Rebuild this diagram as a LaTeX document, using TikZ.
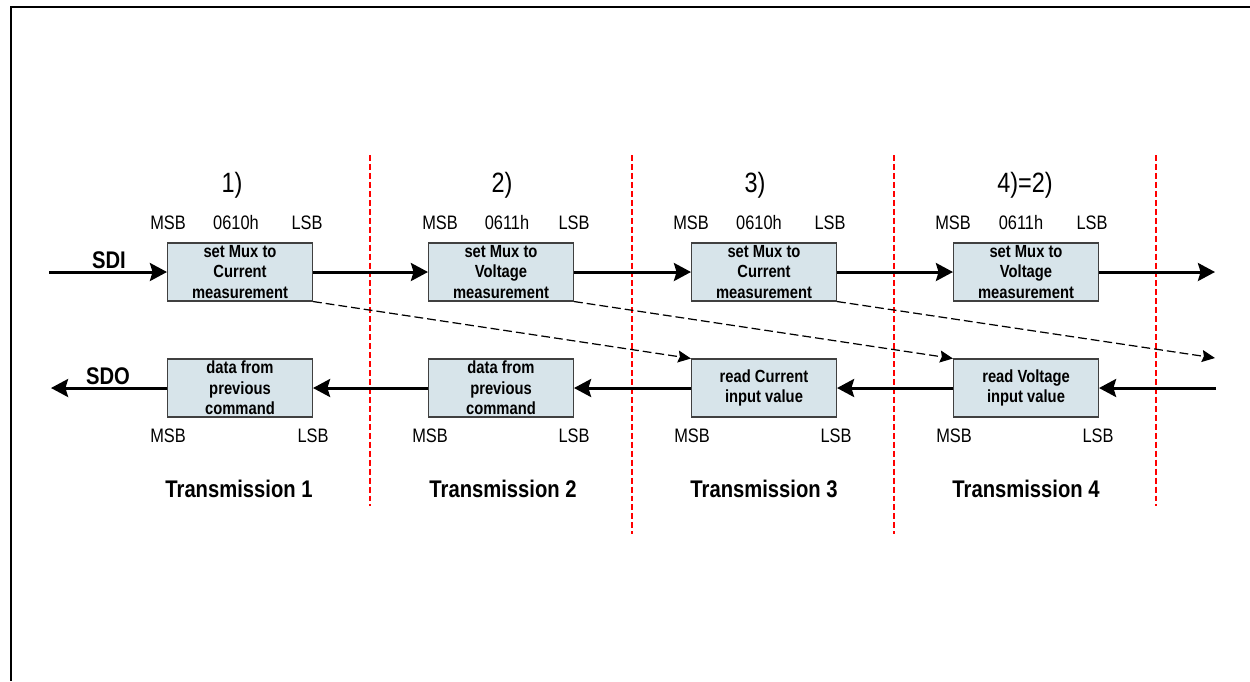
\documentclass[tikz,border=0pt]{standalone}
\usepackage{fontspec}
\setmainfont{Liberation Sans}[FakeStretch=0.84]
\usepackage{xcolor}
\usetikzlibrary{
    arrows.meta,
    positioning
}
\definecolor{boxfill}{HTML}{D7E4EA}
\tikzset{
    reg/.style={draw=black!75, line width=0.6pt, fill=boxfill, minimum width=2.9cm,
        minimum height=1.16cm, inner sep=0pt, align=center,
        font=\fontsize{10pt}{11.7pt}\selectfont\bfseries},
    bit/.style={font=\fontsize{11.1pt}{13pt}\selectfont, inner sep=0pt},
    num/.style={font=\fontsize{15.9pt}{18pt}\selectfont, inner sep=0pt},
    sig/.style={font=\fontsize{13.7pt}{16pt}\selectfont\bfseries, inner sep=0pt},
    flow/.style={line width=1.7pt, -{Stealth[length=9.7pt, width=10.2pt, inset=1.5pt]}},
    delay/.style={line width=0.7pt, dash pattern=on 5pt off 2.3pt,
        -{Stealth[length=7.4pt, width=6.8pt, inset=1pt]}},
    split/.style={red, line width=0.7pt, dash pattern=on 3.4pt off 1.7pt}
}

\begin{document}
\begin{tikzpicture}[x=0.02cm, y=-0.02cm]
    \useasboundingbox (0, 0) rectangle (1250, 681);
    \draw[line width=1.2pt] (1250, 7) -- (11, 7) -- (11, 681);

    % time slots
    \draw[split] (370, 155) -- (370, 506);
    \draw[split] (632, 155) -- (632, 534);
    \draw[split] (894, 155) -- (894, 534);
    \draw[split] (1156, 155) -- (1156, 506);

    % SDI row
    \node[reg] (i1) at (240, 272) {set Mux to\\Current\\measurement};
    \node[reg] (i2) at (501, 272) {set Mux to\\Voltage\\measurement};
    \node[reg] (i3) at (764, 272) {set Mux to\\Current\\measurement};
    \node[reg] (i4) at (1026, 272) {set Mux to\\Voltage\\measurement};

    % SDO row
    \node[reg] (o1) at (240, 388) {data from\\previous\\command};
    \node[reg] (o2) at (501, 388) {data from\\previous\\command};
    \node[reg] (o3) at (764, 388) {read Current\\input value};
    \node[reg] (o4) at (1026, 388) {read Voltage\\input value};

    \node[num] (n1) at (232, 185) {1)};
    \node[num] (n2) at (502, 185) {2)};
    \node[num] (n3) at (755, 185) {3)};
    \node[num] (n4) at (1025, 185) {4)=2)};

    \node[bit] (i1m) at (168, 223) {MSB};
    \node[bit] (i1h) at (236, 223) {0610h};
    \node[bit] (i1l) at (307, 223) {LSB};
    \node[bit] (i2m) at (440, 223) {MSB};
    \node[bit] (i2h) at (507, 223) {0611h};
    \node[bit] (i2l) at (574, 223) {LSB};
    \node[bit] (i3m) at (691, 223) {MSB};
    \node[bit] (i3h) at (759, 223) {0610h};
    \node[bit] (i3l) at (830, 223) {LSB};
    \node[bit] (i4m) at (953, 223) {MSB};
    \node[bit] (i4h) at (1021, 223) {0611h};
    \node[bit] (i4l) at (1092, 223) {LSB};

    \node[bit] (o1m) at (168, 436) {MSB};
    \node[bit] (o1l) at (313, 436) {LSB};
    \node[bit] (o2m) at (430, 436) {MSB};
    \node[bit] (o2l) at (574, 436) {LSB};
    \node[bit] (o3m) at (692, 436) {MSB};
    \node[bit] (o3l) at (836, 436) {LSB};
    \node[bit] (o4m) at (954, 436) {MSB};
    \node[bit] (o4l) at (1098, 436) {LSB};

    \node[sig] (t1) at (239, 489) {Transmission 1};
    \node[sig] (t2) at (503, 489) {Transmission 2};
    \node[sig] (t3) at (764, 489) {Transmission 3};
    \node[sig] (t4) at (1026, 489) {Transmission 4};

    \node[sig] (sdi) at (109, 260) {SDI};
    \node[sig] (sdo) at (108, 376) {SDO};

    \coordinate (inL) at (49, 272);
    \coordinate (inR) at (1215, 272);
    \coordinate (outL) at (51, 388);
    \coordinate (outR) at (1216, 388);
    \coordinate (lastR) at (1215, 358);

    \draw
    (inL) edge[flow] (i1)
    (i1) edge[flow] (i2)
    (i2) edge[flow] (i3)
    (i3) edge[flow] (i4)
    (i4) edge[flow] (inR)
    (o1) edge[flow] (outL)
    (o2) edge[flow] (o1)
    (o3) edge[flow] (o2)
    (o4) edge[flow] (o3)
    (outR) edge[flow] (o4)
    (i1.south east) edge[delay] (o3.north west)
    (i2.south east) edge[delay] (o4.north west)
    (i3.south east) edge[delay] (lastR);
\end{tikzpicture}
\end{document}
